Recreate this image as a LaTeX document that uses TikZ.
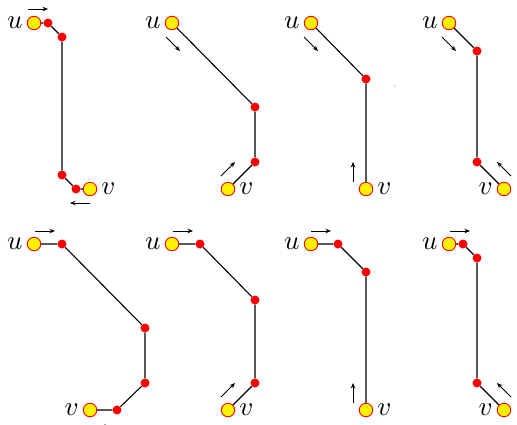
\documentclass[tikz,border=0pt]{standalone}
\usepackage{graphicx}
\usetikzlibrary{arrows.meta}

\tikzset{
  term/.style={circle, draw=red, fill=yellow, line width=0.9pt, minimum size=13.5pt, inner sep=0pt},
  bendpt/.style={circle, fill=red, minimum size=9pt, inner sep=0pt},
  path edge/.style={line width=1.1pt, black},
  flow/.style={-{Stealth[length=5.5pt,width=4.5pt]}, line width=0.9pt},
  lbl/.style={inner sep=0pt},
}
\newcommand{\biglbl}[1]{\scalebox{2.7}{$#1$}}

\begin{document}
\begin{tikzpicture}[x=1pt, y=-1pt]
\useasboundingbox (0,0) rectangle (517,424);

% ---------- top row ----------
% 1
\node[term] (u1) at (34,23) {};
\node[bendpt] (p1a) at (48,23) {};
\node[bendpt] (p1b) at (62,37) {};
\node[bendpt] (p1c) at (62,175) {};
\node[bendpt] (p1d) at (76,189) {};
\node[term] (v1) at (90,189) {};
\draw[path edge] (u1) -- (p1a) -- (p1b) -- (p1c) -- (p1d) -- (v1);
\node[lbl, anchor=east] (lu1) at ([xshift=-4pt]u1.west) {\biglbl{u}};
\node[lbl, anchor=west] (lv1) at ([xshift=4pt]v1.east) {\biglbl{v}};
\coordinate (a1s) at (28,9);  \coordinate (a1e) at (48,9);
\coordinate (b1s) at (90,203); \coordinate (b1e) at (70,203);
\draw[flow] (a1s) -- (a1e);
\draw[flow] (b1s) -- (b1e);

% 2
\node[term] (u2) at (172,23) {};
\node[bendpt] (p2a) at (255,107) {};
\node[bendpt] (p2b) at (255,162) {};
\node[term] (v2) at (228,189) {};
\draw[path edge] (u2) -- (p2a) -- (p2b) -- (v2);
\node[lbl, anchor=east] (lu2) at ([xshift=-4pt]u2.west) {\biglbl{u}};
\node[lbl, anchor=west] (lv2) at ([xshift=4pt]v2.east) {\biglbl{v}};
\coordinate (a2s) at (166,37);  \coordinate (a2e) at (180,51);
\coordinate (b2s) at (221,176); \coordinate (b2e) at (235,162);
\draw[flow] (a2s) -- (a2e);
\draw[flow] (b2s) -- (b2e);

% 3
\node[term] (u3) at (311,23) {};
\node[bendpt] (p3a) at (366,79) {};
\node[term] (v3) at (366,189) {};
\draw[path edge] (u3) -- (p3a) -- (v3);
\node[lbl, anchor=east] (lu3) at ([xshift=-4pt]u3.west) {\biglbl{u}};
\node[lbl, anchor=west] (lv3) at ([xshift=4pt]v3.east) {\biglbl{v}};
\coordinate (a3s) at (304,37);  \coordinate (a3e) at (318,51);
\coordinate (b3s) at (353,182); \coordinate (b3e) at (353,162);
\draw[flow] (a3s) -- (a3e);
\draw[flow] (b3s) -- (b3e);
\fill[gray] (395,86) circle (0.6pt);

% 4
\node[term] (u4) at (449,23) {};
\node[bendpt] (p4a) at (477,51) {};
\node[bendpt] (p4b) at (477,162) {};
\node[term] (v4) at (504,189) {};
\draw[path edge] (u4) -- (p4a) -- (p4b) -- (v4);
\node[lbl, anchor=east] (lu4) at ([xshift=-4pt]u4.west) {\biglbl{u}};
\node[lbl, anchor=east] (lv4) at ([xshift=-4pt]v4.west) {\biglbl{v}};
\coordinate (a4s) at (442,37);  \coordinate (a4e) at (456,51);
\coordinate (b4s) at (511,176); \coordinate (b4e) at (497,162);
\draw[flow] (a4s) -- (a4e);
\draw[flow] (b4s) -- (b4e);

% ---------- bottom row ----------
% 5
\node[term] (u5) at (34,244) {};
\node[bendpt] (p5a) at (62,244) {};
\node[bendpt] (p5b) at (145,328) {};
\node[bendpt] (p5c) at (145,383) {};
\node[bendpt] (p5d) at (117,410) {};
\node[term] (v5) at (90,410) {};
\draw[path edge] (u5) -- (p5a) -- (p5b) -- (p5c) -- (p5d) -- (v5);
\node[lbl, anchor=east] (lu5) at ([xshift=-4pt]u5.west) {\biglbl{u}};
\node[lbl, anchor=east] (lv5) at ([xshift=-4pt]v5.west) {\biglbl{v}};
\coordinate (a5s) at (90,426.5);  \coordinate (a5e) at (110,426.5);
\coordinate (b5s) at (35,231);  \coordinate (b5e) at (55,231);
\draw[flow] (b5s) -- (b5e);
\draw[flow] (a5s) -- (a5e);

% 6
\node[term] (u6) at (172,244) {};
\node[bendpt] (p6a) at (200,244) {};
\node[bendpt] (p6b) at (255,300) {};
\node[bendpt] (p6c) at (255,383) {};
\node[term] (v6) at (228,410) {};
\draw[path edge] (u6) -- (p6a) -- (p6b) -- (p6c) -- (v6);
\node[lbl, anchor=east] (lu6) at ([xshift=-4pt]u6.west) {\biglbl{u}};
\node[lbl, anchor=west] (lv6) at ([xshift=4pt]v6.east) {\biglbl{v}};
\coordinate (a6s) at (173,231); \coordinate (a6e) at (193,231);
\coordinate (b6s) at (221,397); \coordinate (b6e) at (235,383);
\draw[flow] (a6s) -- (a6e);
\draw[flow] (b6s) -- (b6e);

% 7
\node[term] (u7) at (311,244) {};
\node[bendpt] (p7a) at (338,244) {};
\node[bendpt] (p7b) at (366,272) {};
\node[term] (v7) at (366,410) {};
\draw[path edge] (u7) -- (p7a) -- (p7b) -- (v7);
\node[lbl, anchor=east] (lu7) at ([xshift=-4pt]u7.west) {\biglbl{u}};
\node[lbl, anchor=west] (lv7) at ([xshift=4pt]v7.east) {\biglbl{v}};
\coordinate (a7s) at (311,231); \coordinate (a7e) at (331,231);
\coordinate (b7s) at (353,403); \coordinate (b7e) at (353,383);
\draw[flow] (a7s) -- (a7e);
\draw[flow] (b7s) -- (b7e);

% 8
\node[term] (u8) at (449,244) {};
\node[bendpt] (p8a) at (463,244) {};
\node[bendpt] (p8b) at (477,258) {};
\node[bendpt] (p8c) at (477,383) {};
\node[term] (v8) at (504,410) {};
\draw[path edge] (u8) -- (p8a) -- (p8b) -- (p8c) -- (v8);
\node[lbl, anchor=east] (lu8) at ([xshift=-4pt]u8.west) {\biglbl{u}};
\node[lbl, anchor=east] (lv8) at ([xshift=-4pt]v8.west) {\biglbl{v}};
\coordinate (a8s) at (450,231); \coordinate (a8e) at (470,231);
\coordinate (b8s) at (511,397); \coordinate (b8e) at (497,383);
\draw[flow] (a8s) -- (a8e);
\draw[flow] (b8s) -- (b8e);
\end{tikzpicture}
\end{document}
